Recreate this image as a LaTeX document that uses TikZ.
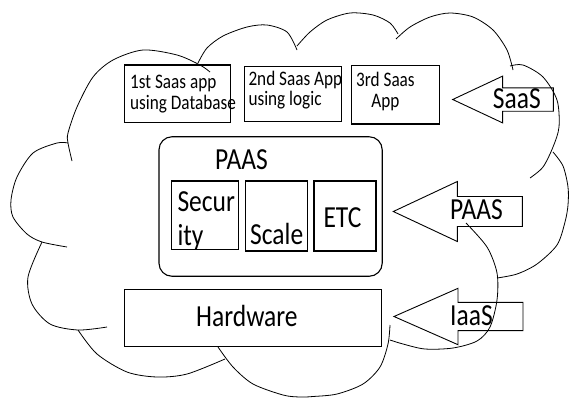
\documentclass[tikz,border=0pt]{standalone}
\usepackage{fontspec}
\setmainfont{Carlito}
\usepackage{graphicx}
\newcommand{\etire}[1]{\scalebox{1}[1.2]{#1}}
\newcommand{\grand}{\fontsize{25.5}{28.3}\selectfont}
\newcommand{\petit}{\fontsize{17.2}{17.4}\selectfont}
\tikzset{
  couche/.pic={\draw[line width=0.9pt] (0,0)--(64,-30)--(64,-15)--(129,-15)--(129,15)--(64,15)--(64,30)--cycle;}
}
\begin{document}
\begin{tikzpicture}[x=1pt,y=-1pt]
\tikzstyle{boite}=[draw,line width=1.1pt,inner sep=0pt] %cadres
\tikzstyle{nuage}=[line width=0.8pt]
\tikzstyle{texte}=[inner sep=0pt,anchor=base west]
\useasboundingbox (0,0) rectangle (569,397);

%le nuage, un arc par bosse
\draw[nuage] plot[smooth] coordinates {(72,161) (68,143) (68,133) (77,107) (93,77) (113,60) (143,50) (177,55) (200,65) (210,72)};
\draw[nuage] plot[smooth] coordinates {(198,63) (207,48) (223,36) (247,27) (267,25) (287,32) (297,50)};
\draw[nuage] plot[smooth] coordinates {(297,46) (310,32) (327,20) (350,13) (373,15) (390,23) (398,34)};
\draw[nuage] plot[smooth] coordinates {(396,39) (410,27) (430,17) (450,13) (473,17) (493,30) (507,50) (513,70)};
\draw[nuage] plot[smooth] coordinates {(510,66) (523,65) (543,77) (557,100) (559,127) (553,147) (543,167) (530,178)};
\draw[nuage] plot[smooth] coordinates {(553,152) (563,166) (568,187) (568,205) (565,222) (557,245) (537,264) (517,274) (497,278)};
\draw[nuage] plot[smooth] coordinates {(466,223) (487,247) (497,273) (497,300) (490,327) (477,341) (453,348) (425,349) (403,344) (390,340)};
\draw[nuage] plot[smooth] coordinates {(218,347) (233,367) (253,384) (283,395) (300,397) (313,396.5) (337,394) (363,384) (380,367) (388,344) (390,325)};
\draw[nuage] plot[smooth] coordinates {(78,330) (97,354) (127,372) (157,377) (187,374) (225,359)};
\draw[nuage] plot[smooth] coordinates {(42,242) (28,277) (32,304) (50,324) (78,330) (107,327)};
\draw[nuage] plot[smooth] coordinates {(68,143) (57,143) (33,153) (17,177) (11,200) (13,217) (27,234) (42,242) (67,247)};

%les applications SaaS
\node[boite,minimum width=106.4pt,minimum height=57.7pt](app1) at (177.5,93.8){};
\node[boite,minimum width=97.4pt,minimum height=55pt](app2) at (293,94.2){};
\node[boite,minimum width=87.6pt,minimum height=58.3pt](app3) at (395.5,94.8){};
\node[texte](tapp1) at (130,88.3){\etire{\petit\begin{tabular}[t]{@{}l@{}}1st Saas app\\using Database\end{tabular}}};
\node[texte](tapp2) at (248.3,85){\etire{\petit\begin{tabular}[t]{@{}l@{}}2nd Saas App\\using logic\end{tabular}}};
\node[texte](tapp3) at (356,86.7){\etire{\petit\begin{tabular}[t]{@{}c@{}}3rd Saas\\App\end{tabular}}};

%la plateforme
\node[boite,rounded corners=13pt,minimum width=223.2pt,minimum height=139.5pt](paas) at (270.6,206.5){};
\node[texte](tpaas) at (215,169.3){\etire{\grand PAAS}};
\node[boite,minimum width=67.3pt,minimum height=68.7pt](secu) at (204.7,215.3){};
\node[boite,minimum width=62pt,minimum height=70pt](scale) at (276.7,216){};
\node[boite,minimum width=62pt,minimum height=70pt](etc) at (345,216){};
\node[texte](tsecu) at (177.3,211.7){\etire{\grand\begin{tabular}[t]{@{}l@{}}Secur\\ity\end{tabular}}};
\node[texte](tscale) at (250,244){\etire{\grand Scale}};
\node[texte](tetc) at (323.3,227.3){\etire{\grand ETC}};

%le materiel
\node[boite,minimum width=257.4pt,minimum height=56.6pt](hard) at (253,318){};
\node[texte](thard) at (196,326.3){\etire{\grand Hardware}};

%les fleches
\pic[scale=0.78] (fsaas) at (452.7,99.5) {couche};
\pic (fpaas) at (393.3,211.5) {couche};
\pic[yscale=0.94] (fiaas) at (394,316.5) {couche};
\node[texte](tsaas) at (492.7,108.3){\etire{\grand SaaS}};
\node[texte](tpaas2) at (450,219.7){\etire{\grand PAAS}};
\node[texte](tiaas) at (450,325.3){\etire{\grand IaaS}};
\end{tikzpicture}
\end{document}
